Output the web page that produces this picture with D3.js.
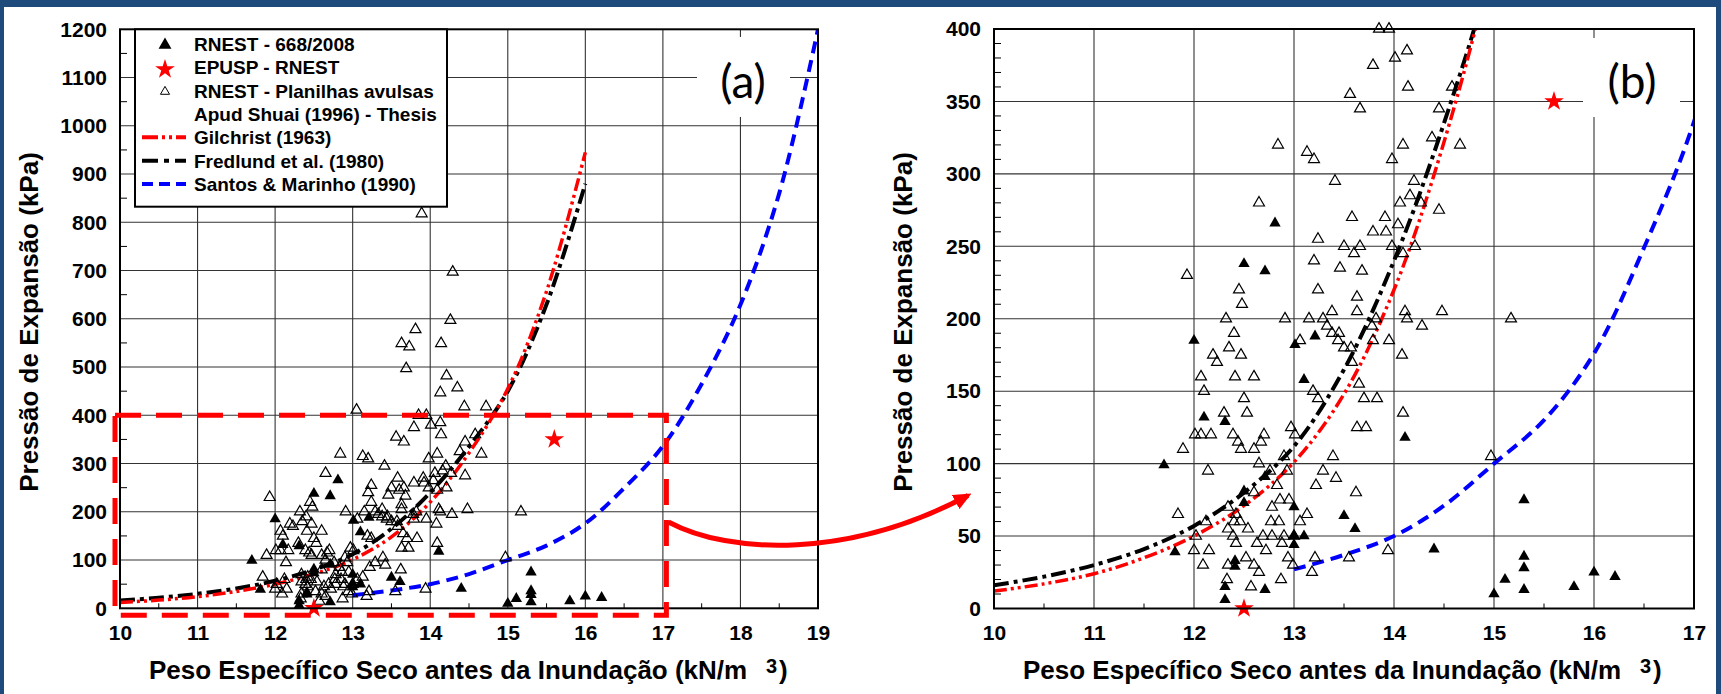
<!DOCTYPE html>
<html>
<head>
<meta charset="utf-8">
<script src="https://cdn.jsdelivr.net/npm/d3@7"></script>
<style>
  html, body { margin: 0; padding: 0; background: #fff; }
  svg { display: block; }
  text { font-family: "Liberation Sans", Arial, sans-serif; }
</style>
</head>
<body>
<svg id="chart" width="1721" height="694"></svg>
<script>
// ---- Tick labels ----
const xTicksA = [10, 11, 12, 13, 14, 15, 16, 17, 18, 19];
const yTicksA = [0, 100, 200, 300, 400, 500, 600, 700, 800, 900, 1000, 1100, 1200];
const xTicksB = [10, 11, 12, 13, 14, 15, 16, 17];
const yTicksB = [0, 50, 100, 150, 200, 250, 300, 350, 400];

// ---- Measured points: [dry unit weight (kN/m3), swelling pressure (kPa)] ----
const rnest668 = [
  [12.81,266],[12.50,238],[12.71,233],[12.00,185],[13.01,182],[13.21,188],[13.10,158],
  [12.10,132],[12.31,129],[14.11,118],[11.70,99],[12.71,91],[12.50,81],[12.50,73],
  [15.30,75],[13.50,64],[13.61,55],[13.00,70],[13.00,50],[13.10,50],[13.00,44],
  [11.81,39],[14.40,41],[12.41,33],[12.41,29],[15.30,36],[15.30,28],[12.31,15],
  [12.71,13],[12.31,6],[15.00,10],[15.11,20],[15.30,13],[15.80,15],[16.00,25],[16.21,22]
];

const epuspRnest = [[12.5, 0], [15.6, 350]];

const planilhasAvulsas = [
  [13.89,818],[14.29,697],[14.26,597],[13.81,578],[13.63,549],[13.73,542],[14.14,549],
  [13.69,497],[14.21,482],[14.35,457],[14.13,447],[14.44,418],[14.72,418],[13.05,411],
  [13.85,400],[13.95,400],[14.13,385],[14.01,380],[13.79,375],[14.14,360],[14.58,360],
  [13.56,355],[14.45,345],[13.66,345],[14.38,325],[14.09,320],[14.66,320],[12.84,320],
  [13.13,315],[13.20,310],[13.98,310],[13.41,295],[14.20,295],[14.27,280],[14.06,280],
  [12.65,280],[14.16,285],[14.45,275],[13.58,270],[13.91,270],[14.04,265],[13.79,260],
  [13.92,260],[13.24,255],[13.50,250],[13.66,250],[13.98,250],[14.21,250],[14.09,245],
  [13.60,245],[13.20,240],[13.46,235],[13.68,233],[11.93,230],[12.45,220],[13.24,220],
  [12.48,210],[13.63,215],[12.32,200],[12.91,200],[13.15,200],[13.38,205],[13.63,205],
  [13.29,200],[13.82,200],[14.11,205],[14.13,200],[14.48,205],[15.17,200],[14.28,195],
  [13.33,195],[13.78,195],[12.40,190],[13.38,190],[13.45,190],[13.95,185],[13.79,185],
  [13.44,185],[13.06,185],[12.35,180],[13.50,180],[13.57,180],[12.19,175],[12.47,175],
  [14.08,175],[12.23,170],[13.58,170],[12.07,160],[12.41,160],[12.60,160],[13.65,155],
  [12.10,150],[13.19,150],[13.24,145],[12.50,145],[13.70,145],[13.83,145],[12.30,135],
  [12.53,135],[14.09,135],[13.63,125],[13.72,125],[12.97,125],[12.01,120],[12.07,120],
  [12.17,120],[12.39,120],[12.70,120],[13.01,120],[12.67,115],[12.44,115],[11.89,110],
  [12.47,110],[12.60,110],[13.39,105],[14.97,105],[12.90,105],[12.65,100],[12.14,95],
  [12.76,95],[12.93,95],[13.29,95],[13.42,90],[12.83,85],[13.22,85],[13.62,80],
  [12.60,80],[12.86,75],[12.95,75],[12.34,70],[12.78,70],[13.13,65],[11.84,65],
  [12.42,65],[12.46,60],[12.12,60],[12.40,60],[12.77,60],[12.85,60],[13.06,60],
  [12.34,55],[12.54,55],[12.02,50],[12.39,50],[12.69,50],[12.78,50],[12.90,50],
  [13.00,50],[12.63,45],[12.88,45],[12.42,45],[12.00,40],[12.15,40],[12.72,40],
  [13.94,40],[12.94,35],[13.21,35],[13.55,35],[12.52,35],[12.09,30],[12.99,30],
  [12.34,30],[12.60,30],[12.65,25],[13.18,25],[12.87,20],[12.33,20],[12.57,15]
];

// ---- Correlation curves ----
const gilchrist = [[10,12],[10.5,17],[11,24],[11.5,35],[12,50],[12.5,71],[13,101],[13.5,148],
  [14,220],[14.5,322],[15,455],[15.5,657],[16,945]];
const fredlund = [[10,16],[10.5,22],[11,30],[11.5,41],[12,57],[12.5,80],[13,112],[13.5,165],
  [14,240],[14.5,335],[15,450],[15.5,630],[16,880]];
const santosMarinho = [[13,27],[13.5,37],[14,50],[14.5,71],[15,100],[15.5,130],[16,176],
  [16.5,249],[17,336],[17.5,465],[18,629],[18.5,860],[19,1200]];

// ---- Legend entries ----
const legendLabels = [
  "RNEST - 668/2008",
  "EPUSP - RNEST",
  "RNEST - Planilhas avulsas",
  "Apud Shuai (1996) - Thesis",
  "Gilchrist (1963)",
  "Fredlund et al. (1980)",
  "Santos & Marinho (1990)"
];

const xTitle = "Peso Específico Seco antes da Inundação (kN/m";
const yTitle = "Pressão de Expansão (kPa)";

// ---- Styles ----
const RED = "#ff0000", BLUE = "#0000ff", BORDER = "#1f4a7c";
const styles = {
  gil: { stroke: RED,    width: 3.5, dash: "13,4,3,4,3,4" },
  fre: { stroke: "#000", width: 4,   dash: "15,5,4,5" },
  san: { stroke: BLUE,   width: 4,   dash: "12,7" }
};

const svg = d3.select("#chart");
svg.append("rect").attr("width", 1721).attr("height", 694).attr("fill", BORDER);
svg.append("rect").attr("x", 4).attr("y", 7).attr("width", 1712).attr("height", 687).attr("fill", "#fff");

const panels = [
  {
    key: "a",
    x: d3.scaleLinear([10, 19], [120, 818]),
    y: d3.scaleLinear([0, 1200], [608.3, 29.3]),
    xTicks: xTicksA, yTicks: yTicksA, yMinorStep: 50,
    label: "(a)", labelBox: [697, 37, 93, 80], labelX: 743,
    titleX: 149, supX: 766, parenX: 779, yTitleX: 38,
    maxY: 1200
  },
  {
    key: "b",
    x: d3.scaleLinear([10, 17], [994, 1694]),
    y: d3.scaleLinear([0, 400], [608.5, 29]),
    xTicks: xTicksB, yTicks: yTicksB, yMinorStep: 10,
    label: "(b)", labelBox: [1583, 38, 97, 79], labelX: 1632,
    titleX: 1023, supX: 1640, parenX: 1653, yTitleX: 912,
    maxY: 402
  }
];

const tri = d3.symbol().type(d3.symbolTriangle);
const star = d3.symbol().type(d3.symbolStar);

panels.forEach(p => {
  const g = svg.append("g");
  const [x0, x1] = p.x.range();
  const [y0, y1] = p.y.range();

  // clip for the curves
  const clipId = "clip-" + p.key;
  svg.append("clipPath").attr("id", clipId)
    .append("rect").attr("x", x0).attr("y", y1).attr("width", x1 - x0).attr("height", y0 - y1);

  // grid
  const grid = g.append("g").attr("stroke", "#333").attr("stroke-width", 1.1);
  p.xTicks.slice(1, -1).forEach(v => {
    grid.append("line").attr("x1", p.x(v)).attr("x2", p.x(v)).attr("y1", y0).attr("y2", y1);
  });
  p.yTicks.slice(1, -1).forEach(v => {
    grid.append("line").attr("x1", x0).attr("x2", x1).attr("y1", p.y(v)).attr("y2", p.y(v));
  });

  // minor ticks
  const minor = g.append("g").attr("stroke", "#000").attr("stroke-width", 1);
  const xd = p.x.domain(), yd = p.y.domain();
  d3.range(xd[0] + 0.5, xd[1], 1).forEach(v => {
    minor.append("line").attr("x1", p.x(v)).attr("x2", p.x(v)).attr("y1", y0).attr("y2", y0 - 5);
  });
  d3.range(yd[0], yd[1], p.yMinorStep).forEach(v => {
    if (v % (p.yTicks[1]) === 0) return;
    minor.append("line").attr("x1", x0).attr("x2", x0 + 7).attr("y1", p.y(v)).attr("y2", p.y(v));
  });

  // panel label box
  const lb = p.labelBox;
  g.append("rect").attr("x", lb[0]).attr("y", lb[1]).attr("width", lb[2]).attr("height", lb[3]).attr("fill", "#fff");
  g.append("text").attr("x", p.labelX).attr("y", 98).attr("text-anchor", "middle")
    .style("font-family", "Lato, 'Open Sans', sans-serif").attr("font-size", 46).attr("fill", "#000")
    .text(p.label);

  // curves
  const line = d3.line().x(d => p.x(d[0])).y(d => p.y(d[1])).curve(d3.curveCatmullRom.alpha(0.5));
  const curves = g.append("g").attr("clip-path", `url(#${clipId})`);
  [[santosMarinho, styles.san], [fredlund, styles.fre], [gilchrist, styles.gil]].forEach(([data, s]) => {
    curves.append("path").attr("d", line(data)).attr("fill", "none")
      .attr("stroke", s.stroke).attr("stroke-width", s.width).attr("stroke-dasharray", s.dash);
  });

  // markers
  const inRange = d => d[1] <= p.maxY;
  g.append("g").selectAll("path").data(planilhasAvulsas.filter(inRange)).join("path")
    .attr("d", tri.size(52)())
    .attr("transform", d => `translate(${p.x(d[0])},${p.y(d[1])})`)
    .attr("fill", "none").attr("stroke", "#000").attr("stroke-width", 1.2);
  g.append("g").selectAll("path").data(rnest668.filter(inRange)).join("path")
    .attr("d", tri.size(56)())
    .attr("transform", d => `translate(${p.x(d[0])},${p.y(d[1])})`)
    .attr("fill", "#000");
  g.append("g").selectAll("path").data(epuspRnest.filter(inRange)).join("path")
    .attr("d", star.size(120)())
    .attr("transform", d => `translate(${p.x(d[0])},${p.y(d[1])})`)
    .attr("fill", RED);

  // frame
  g.append("rect").attr("x", x0).attr("y", y1).attr("width", x1 - x0).attr("height", y0 - y1)
    .attr("fill", "none").attr("stroke", "#000").attr("stroke-width", 2);

  // axes
  const fmt = d3.format("d");
  const ax = g.append("g").attr("transform", `translate(0,${y0})`)
    .call(d3.axisBottom(p.x).tickValues(p.xTicks).tickSize(0).tickPadding(17).tickFormat(fmt));
  const ay = g.append("g").attr("transform", `translate(${x0},0)`)
    .call(d3.axisLeft(p.y).tickValues(p.yTicks).tickSize(0).tickPadding(13).tickFormat(fmt));
  [ax, ay].forEach(a => {
    a.select(".domain").remove();
    a.selectAll("text").attr("font-size", 21).attr("font-weight", "bold").attr("fill", "#000")
      .style("font-family", "'Liberation Sans', Arial, sans-serif");
  });

  // axis titles
  g.append("text").attr("x", p.titleX).attr("y", 679).attr("font-size", 26).attr("font-weight", "bold").text(xTitle);
  g.append("text").attr("x", p.supX).attr("y", 673).attr("font-size", 20).attr("font-weight", "bold").text("3");
  g.append("text").attr("x", p.parenX).attr("y", 679).attr("font-size", 26).attr("font-weight", "bold").text(")");
  g.append("text").attr("transform", `translate(${p.yTitleX},322) rotate(-90)`).attr("text-anchor", "middle")
    .attr("font-size", 26).attr("font-weight", "bold").text(yTitle);

  p.g = g;
});

// ---- Legend (panel a) ----
const pa = panels[0];
const lg = pa.g.append("g");
lg.append("rect").attr("x", 135).attr("y", 29.3).attr("width", 312).attr("height", 177.4)
  .attr("fill", "#fff").attr("stroke", "#000").attr("stroke-width", 2);
const rowY = i => 51 + i * 23.33;
legendLabels.forEach((t, i) => {
  lg.append("text").attr("x", 194).attr("y", rowY(i)).attr("font-size", 19).attr("font-weight", "bold").text(t);
});
lg.append("path").attr("d", tri.size(72)()).attr("transform", `translate(165,${rowY(0) - 6})`).attr("fill", "#000");
lg.append("path").attr("d", star.size(120)()).attr("transform", `translate(165,${rowY(1) - 5})`).attr("fill", RED);
lg.append("path").attr("d", tri.size(36)()).attr("transform", `translate(165,${rowY(2) - 6})`)
  .attr("fill", "none").attr("stroke", "#000").attr("stroke-width", 1);
[[styles.gil, 4, "16,4,3,4,3,4"], [styles.fre, 5, "16,6,5,6"], [styles.san, 6, "11,6"]].forEach(([s, i, dash]) => {
  lg.append("line").attr("x1", 142).attr("x2", 186).attr("y1", rowY(i) - 7).attr("y2", rowY(i) - 7)
    .attr("stroke", s.stroke).attr("stroke-width", 4).attr("stroke-dasharray", dash);
});

// ---- Zoom region in panel (a) and arrow to panel (b) ----
const pb = panels[1];
const zx0 = pa.x(10) - 5, zx1 = pa.x(17) + 3.5, zy0 = pa.y(400), zy1 = pa.y(0) + 7;
svg.append("rect").attr("x", zx0).attr("y", zy0).attr("width", zx1 - zx0).attr("height", zy1 - zy0)
  .attr("fill", "none").attr("stroke", RED).attr("stroke-width", 5).attr("stroke-dasharray", "26,15");

const defs = svg.append("defs");
defs.append("marker").attr("id", "arrowhead").attr("markerUnits", "userSpaceOnUse")
  .attr("markerWidth", 18).attr("markerHeight", 16).attr("refX", 14).attr("refY", 8).attr("orient", "auto")
  .append("path").attr("d", "M0,0 L18,8 L0,16 Z").attr("fill", RED);

const a0 = [zx1 + 2, pa.y(179)];
const a1 = [pb.x(10) - 26, pb.y(78)];
svg.append("path")
  .attr("d", `M${a0[0]},${a0[1]} C${a0[0] + 62},${a0[1] + 33} ${a1[0] - 118},${a1[1] + 63} ${a1[0]},${a1[1]}`)
  .attr("fill", "none").attr("stroke", RED).attr("stroke-width", 5).attr("marker-end", "url(#arrowhead)");
</script>
</body>
</html>
